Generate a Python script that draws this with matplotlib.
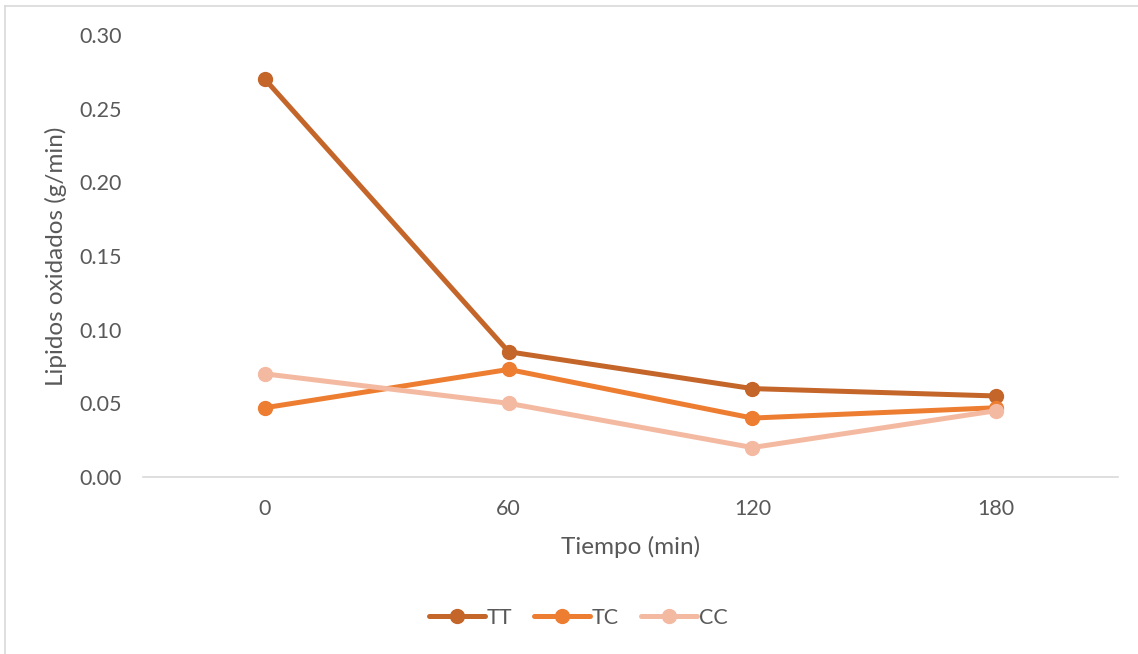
import matplotlib.pyplot as plt
from matplotlib.lines import Line2D

tiempos = ["0", "60", "120", "180"]
tt = [0.27, 0.085, 0.060, 0.055]
tc = [0.047, 0.073, 0.040, 0.047]
cc = [0.070, 0.050, 0.020, 0.045]
series = [("TT", tt, "#C4652A"), ("TC", tc, "#ED7D31"), ("CC", cc, "#F4B9A1")]

plt.rcParams['font.family'] = ['Lato', 'DejaVu Sans']
gray = "#595959"

W, H = 1138, 654
fig = plt.figure(figsize=(W / 100, H / 100), dpi=100)
ax = fig.add_axes([143 / W, 1 - 477 / H, (1118 - 143) / W, (477 - 35) / H])

x = range(len(tiempos))
for name, vals, col in series:
    ax.plot(x, vals, color=col, lw=3.6, marker="o", ms=10, label=name,
            solid_capstyle="round")

ax.set_xlim(-0.5, 3.5)
ax.set_ylim(0, 0.30)
ax.set_xticks(list(x))
ax.set_xticklabels(tiempos)
ax.set_yticks([0, 0.05, 0.10, 0.15, 0.20, 0.25, 0.30])
ax.yaxis.set_major_formatter(plt.FormatStrFormatter("%.2f"))
ax.tick_params(length=0, labelsize=15.5, colors=gray)
ax.tick_params(axis="x", pad=16)
ax.tick_params(axis="y", pad=15)

for s in ["top", "right", "left"]:
    ax.spines[s].set_visible(False)
ax.spines["bottom"].set_color("#D9D9D9")
ax.spines["bottom"].set_linewidth(1.2)

ax.set_xlabel("Tiempo (min)", fontsize=17.5, color=gray, labelpad=12)
ax.set_ylabel("Lipidos oxidados (g/min)", fontsize=17.5, color=gray, labelpad=9)

leg = fig.legend(loc="center", bbox_to_anchor=(578 / W, 1 - 618 / H), ncol=3,
                 frameon=False, fontsize=15.5, handlelength=2.6,
                 columnspacing=1.0, handletextpad=0.1)
for t in leg.get_texts():
    t.set_color(gray)

# outer chart border (left and top visible)
fig.add_artist(Line2D([5 / W, 5 / W], [0, 1 - 6 / H], transform=fig.transFigure,
                      color="#D9D9D9", lw=1.2))
fig.add_artist(Line2D([5 / W, 1], [1 - 6 / H, 1 - 6 / H], transform=fig.transFigure,
                      color="#D9D9D9", lw=1.2))

fig.savefig("out.png", dpi=100)
